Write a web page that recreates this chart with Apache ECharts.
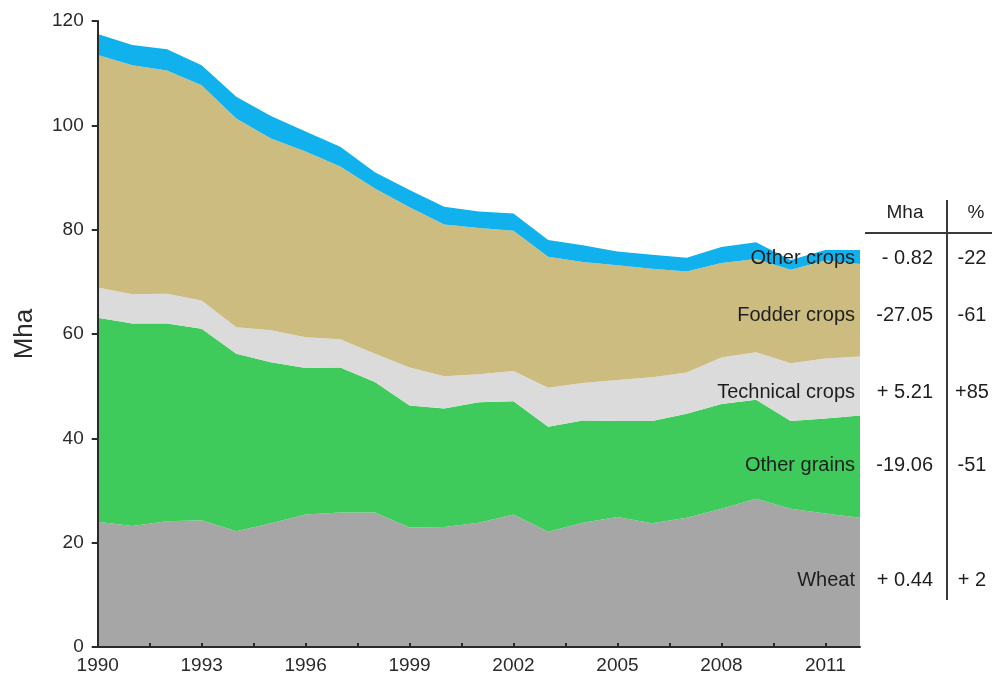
<!DOCTYPE html>
<html>
<head>
<meta charset="utf-8">
<script src="https://cdn.jsdelivr.net/npm/echarts@6/dist/echarts.min.js"></script>
<style>
html,body{margin:0;padding:0;background:#fff;}
#main{width:992px;height:679px;}
</style>
</head>
<body>
<div id="main"></div>
<script>
var years = [1990,1991,1992,1993,1994,1995,1996,1997,1998,1999,2000,2001,2002,2003,2004,2005,2006,2007,2008,2009,2010,2011,2012];
var wheat       = [24.0,23.2,24.1,24.3,22.2,23.7,25.4,25.8,25.8,22.9,23.0,23.8,25.4,22.1,23.8,24.9,23.7,24.8,26.5,28.4,26.5,25.6,24.8];
var otherGrains = [39.1,38.8,37.9,36.7,34.0,30.9,28.1,27.8,25.0,23.4,22.7,23.1,21.7,20.1,19.6,18.4,19.6,19.9,20.1,19.0,16.8,18.2,19.6];
var technical   = [5.8,5.6,5.7,5.4,5.1,6.1,5.9,5.4,5.4,7.3,6.2,5.4,5.8,7.5,7.2,7.9,8.4,7.9,8.9,9.1,11.1,11.5,11.3];
var fodder      = [44.6,43.9,42.8,41.3,40.0,36.8,35.6,33.1,31.7,30.7,29.1,28.0,26.9,25.1,23.2,22.0,20.8,19.4,18.1,17.9,17.9,18.8,17.7];
var otherCrops  = [4.0,3.9,4.1,3.8,4.2,4.3,3.8,3.8,3.1,3.3,3.4,3.2,3.3,3.2,3.2,2.6,2.7,2.6,3.1,3.2,1.9,2.0,2.7];

var seriesNames = ['Wheat','Other grains','Technical crops','Fodder crops','Other crops'];
var changeMha = ['+ 0.44','-19.06','+ 5.21','-27.05','- 0.82'];
var changePct = ['+ 2','-51','+85','-61','-22'];
var xLabelYears = [1990,1993,1996,1999,2002,2005,2008,2011];
var xTickYears = [1990,1991.5,1993,1994.5,1996,1997.5,1999,2000.5,2002,2003.5,2005,2006.5,2008,2009.5,2011];

var colors = ['#a6a6a6','#3ecb5c','#dbdbdb','#cdbc80','#10b1ec'];
var FONT = "'Liberation Sans', Arial, sans-serif";

var dataSets = [wheat, otherGrains, technical, fodder, otherCrops];

var series = dataSets.map(function(d, i){
  return {
    name: seriesNames[i], type: 'line', stack: 'total', data: d,
    xAxisIndex: 0,
    showSymbol: false, symbol: 'none', silent: true,
    lineStyle: {width: 0, color: colors[i]},
    areaStyle: {color: colors[i], opacity: 1},
    itemStyle: {color: colors[i]},
    z: 2
  };
});

var labelY = [580, 465, 392, 315, 258];
var graphics = [];
seriesNames.forEach(function(n, i){
  graphics.push({type:'text', x:855, y:labelY[i], style:{text:n, font:'20px '+FONT, fill:'#1e1e1e', align:'right', verticalAlign:'middle'}, z:100});
  graphics.push({type:'text', x:933, y:labelY[i], style:{text:changeMha[i], font:'20px '+FONT, fill:'#1e1e1e', align:'right', verticalAlign:'middle'}, z:100});
  graphics.push({type:'text', x:972, y:labelY[i], style:{text:changePct[i], font:'20px '+FONT, fill:'#1e1e1e', align:'center', verticalAlign:'middle'}, z:100});
});
graphics.push({type:'text', x:905, y:213, style:{text:'Mha', font:'19px '+FONT, fill:'#1e1e1e', align:'center', verticalAlign:'middle'}, z:100});
graphics.push({type:'text', x:976, y:213, style:{text:'%', font:'19px '+FONT, fill:'#1e1e1e', align:'center', verticalAlign:'middle'}, z:100});
graphics.push({type:'line', shape:{x1:947, y1:200, x2:947, y2:600}, style:{stroke:'#3a3a3a', lineWidth:2}, z:100});
graphics.push({type:'line', shape:{x1:865, y1:233, x2:992, y2:233}, style:{stroke:'#3a3a3a', lineWidth:2}, z:100});

var chart = echarts.init(document.getElementById('main'), null, {renderer:'canvas'});
chart.setOption({
  backgroundColor: '#ffffff',
  animation: false,
  grid: {left: 97.7, right: 132, top: 21, bottom: 32, containLabel: false},
  xAxis: [{
    type: 'category', data: years.map(String), boundaryGap: false, show: false
  }, {
    type: 'value', min: 1990, max: 2012, position: 'bottom',
    axisLine: {show: true, lineStyle: {color: '#2a2a2a', width: 2}},
    axisTick: {show: true, inside: true, length: 4, customValues: xTickYears, lineStyle: {color: '#2a2a2a', width: 2}},
    axisLabel: {customValues: xLabelYears, formatter: function(v){ return String(v); }, color: '#2a2a2a', fontSize: 19, fontFamily: FONT, margin: 9},
    splitLine: {show: false}, z: 10
  }],
  yAxis: {
    type: 'value', min: 0, max: 120, interval: 20,
    name: 'Mha', nameLocation: 'middle', nameGap: 60, nameRotate: 90,
    nameTextStyle: {fontSize: 26, fontFamily: FONT, color: '#2a2a2a'},
    axisLine: {show: true, lineStyle: {color: '#2a2a2a', width: 2}},
    axisTick: {show: true, length: 6, lineStyle: {color: '#2a2a2a', width: 2}},
    axisLabel: {color: '#2a2a2a', fontSize: 19, fontFamily: FONT, margin: 14},
    splitLine: {show: false}, z: 10
  },
  series: series,
  graphic: graphics
});
</script>
</body>
</html>
